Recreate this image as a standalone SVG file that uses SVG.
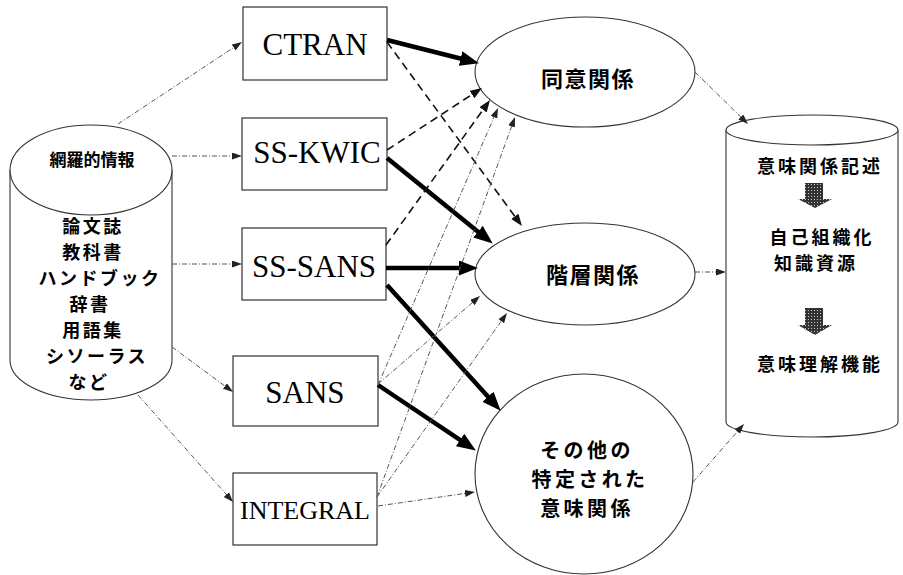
<svg xmlns="http://www.w3.org/2000/svg" width="903" height="575" viewBox="0 0 903 575">
<defs>
<style>
.shape{fill:#fff;stroke:#333;stroke-width:1.1}
.box{fill:#fff;stroke:#333;stroke-width:1.2}
.jp{font-family:"Noto Sans CJK JP","Noto Sans",sans-serif;font-weight:700;fill:#000;text-anchor:middle;dominant-baseline:central}
.list{font-size:18px;letter-spacing:2.5px}
.res{font-size:18px;letter-spacing:3px}
.oth{font-size:20px;letter-spacing:3.4px}
.en{font-family:"Liberation Serif","Times New Roman",serif;fill:#000;text-anchor:middle}
.thick{fill:none;stroke:#000;stroke-width:4.5;marker-end:url(#hBig)}
.dash{fill:none;stroke:#111;stroke-width:1.6;stroke-dasharray:8,5;marker-end:url(#hMid)}
.thin{fill:none;stroke:#555;stroke-width:1;stroke-dasharray:5,2,1,2;marker-end:url(#hSmall)}
</style>
<marker id="hBig" markerUnits="userSpaceOnUse" markerWidth="20" markerHeight="16" refX="8" refY="7.5" orient="auto"><path d="M0,0 L19,7.5 L0,15 z" fill="#000"/></marker>
<marker id="hMid" markerUnits="userSpaceOnUse" markerWidth="14" markerHeight="10" refX="6" refY="4.5" orient="auto"><path d="M0,0 L12,4.5 L0,9 z" fill="#111"/></marker>
<marker id="hSmall" markerUnits="userSpaceOnUse" markerWidth="12" markerHeight="8" refX="5" refY="3.5" orient="auto"><path d="M0,0 L10,3.5 L0,7 z" fill="#222"/></marker>
<pattern id="dither" width="3" height="3" patternUnits="userSpaceOnUse"><rect width="3" height="3" fill="#333"/><rect x="1" y="1" width="1" height="1" fill="#ccc"/></pattern>
</defs>
<rect width="903" height="575" fill="#fff"/>

<g id="source">
<path class="shape" d="M10,170 L10,360 A81,40 0 0 0 172,360 L172,170"/>
<ellipse class="shape" cx="91" cy="170" rx="81" ry="45"/>
<text class="jp" x="92" y="158" font-size="17">網羅的情報</text>
<text class="jp list" x="93" y="225">論文誌</text>
<text class="jp list" x="93" y="251">教科書</text>
<text class="jp list" x="100" y="277">ハンドブック</text>
<text class="jp list" x="90" y="303">辞書</text>
<text class="jp list" x="93" y="329">用語集</text>
<text class="jp list" x="97" y="355">シソーラス</text>
<text class="jp list" x="89" y="381">など</text>
</g>

<g id="ctran"><rect class="box" x="243" y="7" width="144" height="73"/><text class="en" x="315" y="55" font-size="31">CTRAN</text></g>
<g id="sskwic"><rect class="box" x="242" y="118" width="145" height="72"/><text class="en" x="317" y="163" font-size="31">SS-KWIC</text></g>
<g id="sssans"><rect class="box" x="242" y="228" width="144" height="72"/><text class="en" x="314" y="277" font-size="31">SS-SANS</text></g>
<g id="sans"><rect class="box" x="233" y="356" width="145" height="70"/><text class="en" x="305" y="403" font-size="31">SANS</text></g>
<g id="integral"><rect class="box" x="233" y="473" width="144" height="72"/><text class="en" x="305" y="519" font-size="26">INTEGRAL</text></g>

<g id="synonym"><ellipse class="shape" cx="585" cy="72" rx="110" ry="55"/><text class="jp" x="588" y="77" font-size="22" letter-spacing="1.5">同意関係</text></g>
<g id="hierarchy"><ellipse class="shape" cx="585" cy="274" rx="110" ry="51"/><text class="jp" x="593" y="273" font-size="22" letter-spacing="1.5">階層関係</text></g>
<g id="other"><ellipse class="shape" cx="584" cy="474" rx="109" ry="100"/>
<text class="jp oth" x="587" y="449">その他の</text>
<text class="jp oth" x="590" y="478">特定された</text>
<text class="jp oth" x="587" y="507">意味関係</text></g>

<g id="resource">
<path class="shape" d="M726,130 L726,422 A86,15 0 0 0 898,422 L898,130"/>
<ellipse class="shape" cx="812" cy="130" rx="86" ry="15"/>
<text class="jp res" x="820" y="165">意味関係記述</text>
<path d="M805,183 L823,183 L823,199 L832,199 L815,208 L798,199 L805,199 z" fill="url(#dither)"/>
<text class="jp res" x="822" y="236">自己組織化</text>
<text class="jp res" x="816" y="262">知識資源</text>
<path d="M805,308 L823,308 L823,325 L832,325 L815,335 L798,325 L805,325 z" fill="url(#dither)"/>
<text class="jp res" x="820" y="363">意味理解機能</text>
</g>

<g id="connectors">
<path class="thin" d="M118,124 L237.8,44.8"/>
<path class="thin" d="M172,156 L237,156"/>
<path class="thin" d="M172,264 L237,264"/>
<path class="thin" d="M172,347 L229,389"/>
<path class="thin" d="M138,395 L229.7,498.3"/>

<path class="thick" d="M387,40 L468.3,60.5"/>
<path class="thick" d="M387,158 L484.2,236.7"/>
<path class="thick" d="M386,268 L467,268"/>
<path class="thick" d="M387,285 L493.3,402.6"/>
<path class="thick" d="M378,385 L466.7,444.4"/>

<path class="dash" d="M387,42 L518.4,221.2"/>
<path class="dash" d="M387,150 L477,91.3"/>
<path class="dash" d="M386,245 L486.5,104.9"/>

<path class="thin" d="M378,385 L496,112.6"/>
<path class="thin" d="M377,497 L513.3,121.7"/>
<path class="thin" d="M378,384 L476.2,299.3"/>
<path class="thin" d="M377,497 L504.1,317.1"/>
<path class="thin" d="M378,506 L470,492.7"/>

<path class="thin" d="M695,72 L744.4,120.5"/>
<path class="thin" d="M695,272 L721,272"/>
<path class="thin" d="M693,482 L740.7,427.8"/>
</g>
</svg>
